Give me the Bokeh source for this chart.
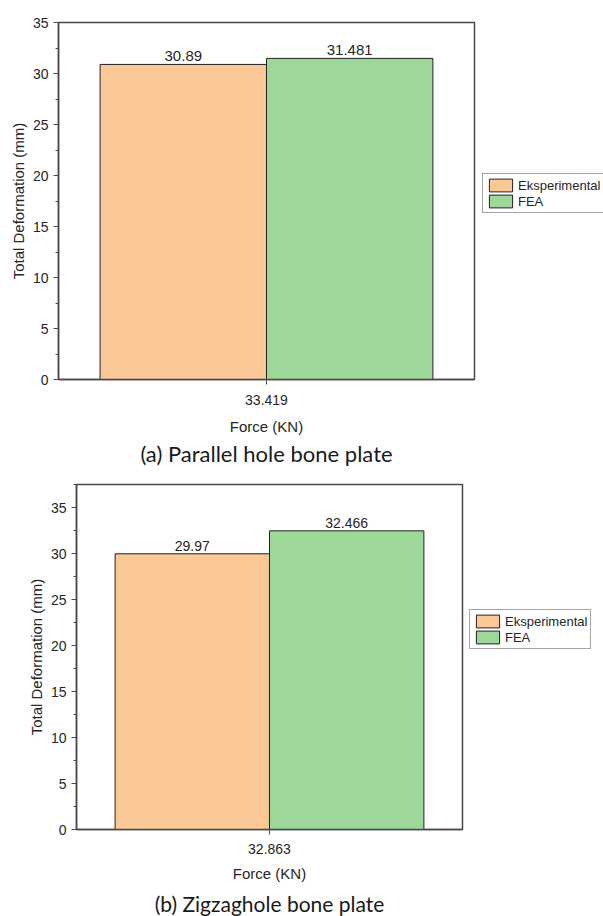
from bokeh.plotting import figure
from bokeh.models import (FactorRange, Range1d, ColumnDataSource, Legend, LegendItem,
                          Title, SingleIntervalTicker, Spacer)
from bokeh.transform import dodge
from bokeh.layouts import column, row
from bokeh.core.properties import value
from bokeh.embed import file_html
from bokeh.resources import INLINE

# ---- data ----
series = ["Eksperimental", "FEA"]
force_a = ["33.419"]
exp_a = [30.89]
fea_a = [31.481]
force_b = ["32.863"]
exp_b = [29.97]
fea_b = [32.466]
captions = ["(a) Parallel hole bone plate", "(b) Zigzaghole bone plate"]
y_label = "Total Deformation (mm)"
x_label = "Force (KN)"

colors = ["#F9C896", "#9DD79A"]
FONT = "Liberation Sans"
AX = "#4a4a4a"
TXT = "#262626"


def make(force, exp, fea, caption, ymax, fw, fh, mb, legend_loc, fs, tick_fs,
         xls, xstand, ystand, title_fs, title_stand):
    src = ColumnDataSource(dict(force=force, exp=exp, fea=fea,
                                exp_t=[str(v) for v in exp], fea_t=[str(v) for v in fea]))
    p = figure(frame_width=fw, frame_height=fh, output_backend="svg", toolbar_location=None,
               x_range=FactorRange(factors=force, range_padding=0),
               y_range=Range1d(0, ymax),
               min_border_left=mb[0], min_border_right=mb[1],
               min_border_top=mb[2], min_border_bottom=mb[3])
    p.xgrid.visible = False
    p.ygrid.visible = False
    p.outline_line_color = AX
    p.outline_line_width = 1.5
    p.outline_line_alpha = 1

    r1 = p.vbar(x=dodge("force", -0.2, range=p.x_range), top="exp", width=0.4, source=src,
                fill_color=colors[0], line_color="#222222", line_width=1)
    r2 = p.vbar(x=dodge("force", 0.2, range=p.x_range), top="fea", width=0.4, source=src,
                fill_color=colors[1], line_color="#222222", line_width=1)

    p.text(x=dodge("force", -0.2, range=p.x_range), y="exp", text="exp_t", source=src,
           text_align="center", text_baseline="bottom", y_offset=-3,
           text_font=value(FONT), text_font_size=fs, text_color=TXT)
    p.text(x=dodge("force", 0.2, range=p.x_range), y="fea", text="fea_t", source=src,
           text_align="center", text_baseline="bottom", y_offset=-3,
           text_font=value(FONT), text_font_size=fs, text_color=TXT)

    p.yaxis.ticker = SingleIntervalTicker(interval=5, num_minor_ticks=2)
    for ax in (p.xaxis, p.yaxis):
        ax.axis_line_color = AX
        ax.axis_line_width = 1.5
        ax.major_tick_line_color = AX
        ax.minor_tick_line_color = AX
        ax.major_tick_in = 0
        ax.major_tick_out = 5
        ax.minor_tick_in = 0
        ax.minor_tick_out = 3
        ax.major_label_standoff = 5
        ax.major_label_text_font = FONT
        ax.major_label_text_font_size = tick_fs
        ax.major_label_text_color = TXT
        ax.axis_label_text_font = FONT
        ax.axis_label_text_font_size = "15px"
        ax.axis_label_text_font_style = "normal"
        ax.axis_label_text_color = TXT
    p.xaxis.axis_label = x_label
    p.yaxis.axis_label = y_label
    p.xaxis.major_label_standoff = xls
    p.xaxis.axis_label_standoff = xstand
    p.yaxis.axis_label_standoff = ystand
    p.xaxis.major_label_orientation = "horizontal"

    legend = Legend(items=[LegendItem(label=series[0], renderers=[r1]),
                           LegendItem(label=series[1], renderers=[r2])],
                    location=legend_loc, orientation="vertical",
                    glyph_width=29, glyph_height=16, label_height=16, label_width=20,
                    label_standoff=3, padding=3, spacing=0, margin=0,
                    border_line_color=AX, border_line_width=1.5,
                    background_fill_color="white", background_fill_alpha=1,
                    label_text_font=FONT, label_text_font_size="13px",
                    label_text_color=TXT)
    p.add_layout(legend, "right")

    p.add_layout(Title(text=caption, align="center", text_font="Lato",
                       text_font_size=title_fs, text_font_style="normal",
                       text_color="#1a1a1a", standoff=title_stand), "below")
    return p


pa = make(force_a, exp_a, fea_a, captions[0], 35, 416, 357, (58, 129, 22, 91),
          (8, 166), "15px", "14px", 10, 10, 3, "22px", 0)
pb = make(force_b, exp_b, fea_b, captions[1], 37.5, 386, 345, (58, 141, 14, 87),
          (7, 180), "14px", "14px", 9, 8, 3, "21px", 8)

layout = column(pa, row(Spacer(width=18, height=10), pb, spacing=0), spacing=0)
open("out.html", "w").write(file_html(layout, INLINE))
